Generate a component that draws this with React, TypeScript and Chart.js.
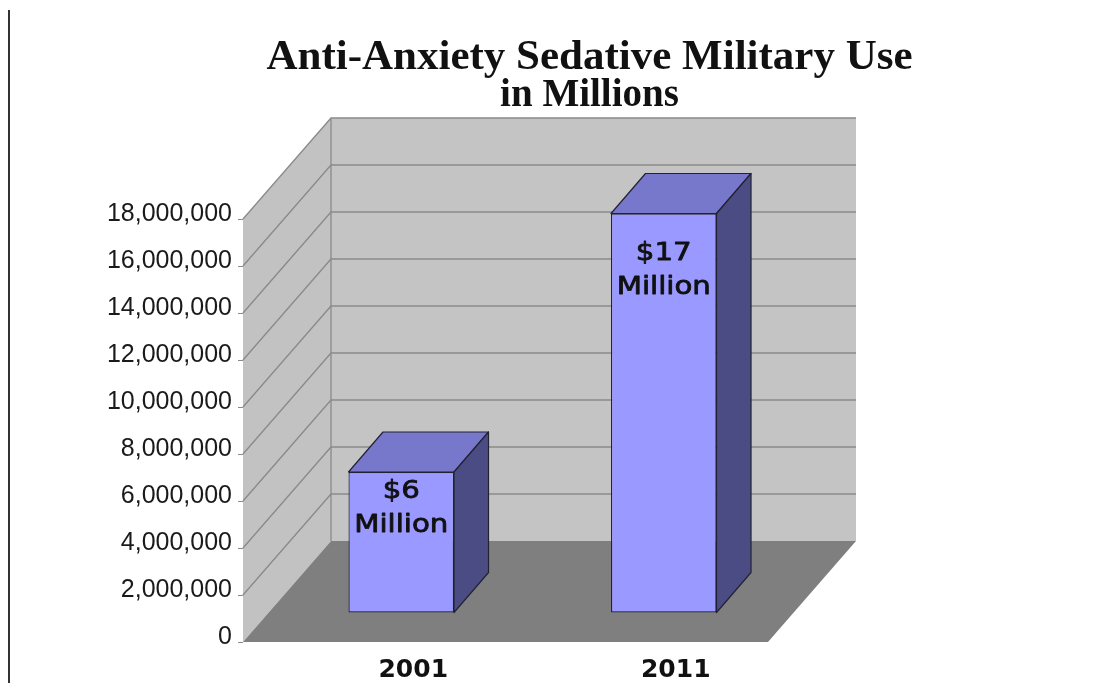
import React, { useEffect, useRef } from 'react';
import { Chart, registerables } from 'chart.js';

Chart.register(...registerables);

// ---- data ----
const categories = ['2001', '2011'];
const spendingValues = [6000000, 17000000];
const barLabelLines = [
  ['$6', 'Million'],
  ['$17', 'Million'],
];
const yTickValues = [0, 2000000, 4000000, 6000000, 8000000, 10000000, 12000000, 14000000, 16000000, 18000000];
const titleText = 'Anti-Anxiety Sedative Military Use';
const subtitleText = 'in Millions';

const depthPlugin = {
  id: 'depth3d',
  beforeDraw(chart: any, _args: any, opts: any) {
    const { ctx, chartArea: ca, scales } = chart;
    const ys = scales.y;
    const dx = opts.wallDepthX;
    const dy = opts.wallDepthY;
    const topY = ys.getPixelForValue(ys.max);
    const botY = ys.getPixelForValue(ys.min);
    ctx.save();
    // page edge rule on the left
    ctx.fillStyle = '#333333';
    ctx.fillRect(8, 10, 2, chart.height - 10);
    // left wall
    ctx.fillStyle = opts.sideWallColor;
    ctx.beginPath();
    ctx.moveTo(ca.left, botY);
    ctx.lineTo(ca.left, topY);
    ctx.lineTo(ca.left + dx, topY + dy);
    ctx.lineTo(ca.left + dx, botY + dy);
    ctx.closePath();
    ctx.fill();
    // back wall
    ctx.fillStyle = opts.backWallColor;
    ctx.fillRect(ca.left + dx, topY + dy, ca.right - ca.left, botY - topY);
    // grid lines on the walls
    ctx.strokeStyle = opts.gridColor;
    ctx.lineWidth = 1.3;
    ys.ticks.forEach((t: any) => {
      if (t.value === ys.min) return;
      const py = ys.getPixelForValue(t.value);
      ctx.beginPath();
      ctx.moveTo(ca.left, py);
      ctx.lineTo(ca.left + dx, py + dy);
      ctx.lineTo(ca.right + dx, py + dy);
      ctx.stroke();
    });
    ctx.beginPath();
    ctx.moveTo(ca.left + dx, topY + dy);
    ctx.lineTo(ca.left + dx, botY + dy);
    ctx.stroke();
    // floor
    ctx.fillStyle = opts.floorColor;
    ctx.beginPath();
    ctx.moveTo(ca.left, botY);
    ctx.lineTo(ca.right, botY);
    ctx.lineTo(ca.right + dx, botY + dy);
    ctx.lineTo(ca.left + dx, botY + dy);
    ctx.closePath();
    ctx.fill();
    ctx.restore();
  },
  beforeDatasetsDraw(chart: any, _args: any, opts: any) {
    const ctx = chart.ctx;
    ctx.save();
    ctx.translate(opts.barShiftX, opts.barShiftY);
  },
  afterDatasetsDraw(chart: any, _args: any, opts: any) {
    const ctx = chart.ctx;
    ctx.restore();
    const meta = chart.getDatasetMeta(0);
    const sx = opts.barShiftX;
    const sy = opts.barShiftY;
    const bx = opts.barDepthX;
    const by = opts.barDepthY;
    meta.data.forEach((bar: any, i: number) => {
      const { x, y, base, width } = bar.getProps(['x', 'y', 'base', 'width'], true);
      const l = x - width / 2 + sx;
      const r = x + width / 2 + sx;
      const t = y + sy;
      const b = base + sy;
      ctx.save();
      ctx.lineWidth = 1.2;
      ctx.strokeStyle = opts.barEdgeColor;
      ctx.lineJoin = 'round';
      // top face
      ctx.fillStyle = opts.barTopColor;
      ctx.beginPath();
      ctx.moveTo(l, t);
      ctx.lineTo(l + bx, t + by);
      ctx.lineTo(r + bx, t + by);
      ctx.lineTo(r, t);
      ctx.closePath();
      ctx.fill();
      ctx.stroke();
      // side face
      ctx.fillStyle = opts.barSideColor;
      ctx.beginPath();
      ctx.moveTo(r, t);
      ctx.lineTo(r + bx, t + by);
      ctx.lineTo(r + bx, b + by);
      ctx.lineTo(r, b);
      ctx.closePath();
      ctx.fill();
      ctx.stroke();
      // labels inside bar
      const lines = barLabelLines[i] || [];
      ctx.fillStyle = '#111111';
      ctx.strokeStyle = '#111111';
      ctx.lineWidth = 0.8;
      ctx.font = opts.labelFont;
      ctx.textAlign = 'center';
      ctx.textBaseline = 'middle';
      const off = opts.labelTopOffsets[i] ?? 20;
      lines.forEach((txt: string, k: number) => {
        ctx.save();
        ctx.translate(x + sx, t + off + k * opts.labelLineGap);
        ctx.scale(opts.labelStretch, 1);
        ctx.fillText(txt, 0, 0);
        ctx.strokeText(txt, 0, 0);
        ctx.restore();
      });
      ctx.restore();
    });
  },
};

export default function App() {
  const ref = useRef<HTMLCanvasElement | null>(null);

  useEffect(() => {
    if (!ref.current) return;
    const chart = new Chart(ref.current, {
      type: 'bar',
      data: {
        labels: categories,
        datasets: [
          {
            data: spendingValues,
            backgroundColor: '#9999ff',
            borderColor: '#222233',
            borderWidth: 1.2,
            borderSkipped: false,
            barPercentage: 0.402,
            categoryPercentage: 1.0,
            clip: false as any,
          },
        ],
      },
      plugins: [depthPlugin],
      options: {
        responsive: false,
        animation: false,
        events: [],
        layout: { padding: { left: 81, right: 0, top: 0, bottom: 0 } },
        plugins: {
          legend: { display: false },
          tooltip: { enabled: false },
          title: {
            display: true,
            text: titleText,
            color: '#111111',
            font: { family: '"Liberation Serif", serif', size: 43, weight: 'bold', lineHeight: '36px' as any },
            padding: { top: 40, bottom: 0 },
          },
          subtitle: {
            display: true,
            text: subtitleText,
            color: '#111111',
            font: { family: '"Liberation Serif", serif', size: 39, weight: 'bold', lineHeight: '36px' as any },
            padding: { top: 2, bottom: 105 },
          },
          depth3d: {
            wallDepthX: 88,
            wallDepthY: -101,
            barShiftX: 27,
            barShiftY: -29,
            barDepthX: 34.5,
            barDepthY: -40,
            sideWallColor: '#c2c2c2',
            backWallColor: '#c4c4c4',
            floorColor: '#7f7f7f',
            gridColor: '#8a8a8a',
            barTopColor: '#7777cc',
            barSideColor: '#4c4c84',
            barEdgeColor: '#222233',
            labelFont: '25px "DejaVu Sans", sans-serif',
            labelStretch: 1.17,
            labelLineGap: 34,
            labelTopOffsets: [19.5, 39.5],
          },
        } as any,
        scales: {
          x: {
            grid: { display: false, drawTicks: false },
            border: { display: false },
            ticks: {
              labelOffset: 39,
              padding: 13.5,
              color: '#111111',
              font: { family: '"DejaVu Sans", sans-serif', size: 25, weight: 'bold' },
            },
            afterFit: (s: any) => {
              s.height = 41;
            },
          },
          y: {
            min: yTickValues[0],
            max: yTickValues[yTickValues.length - 1],
            afterBuildTicks: (s: any) => {
              s.ticks = yTickValues.map((v) => ({ value: v }));
            },
            grid: { display: true, drawOnChartArea: false, drawTicks: true, tickLength: 5, color: '#8a8a8a' },
            border: { display: false },
            ticks: {
              padding: 6,
              labelOffset: -5,
              color: '#1a1a1a',
              font: { family: '"Liberation Sans", Arial, sans-serif', size: 25 },
              callback: (v: any) => Number(v).toLocaleString('en-US'),
            },
            afterFit: (s: any) => {
              s.width = 162;
            },
          },
          yr: {
            type: 'linear',
            position: 'right',
            display: true,
            grid: { display: false, drawTicks: false },
            border: { display: false },
            ticks: { display: false },
            afterFit: (s: any) => {
              s.width = 330;
            },
          },
        } as any,
      },
    });
    return () => chart.destroy();
  }, []);

  return (
    <div style={{ position: 'absolute', left: 0, top: 0, width: 1098, height: 683 }}>
      <canvas ref={ref} width={1098} height={683} style={{ width: 1098, height: 683 }} />
    </div>
  );
}
